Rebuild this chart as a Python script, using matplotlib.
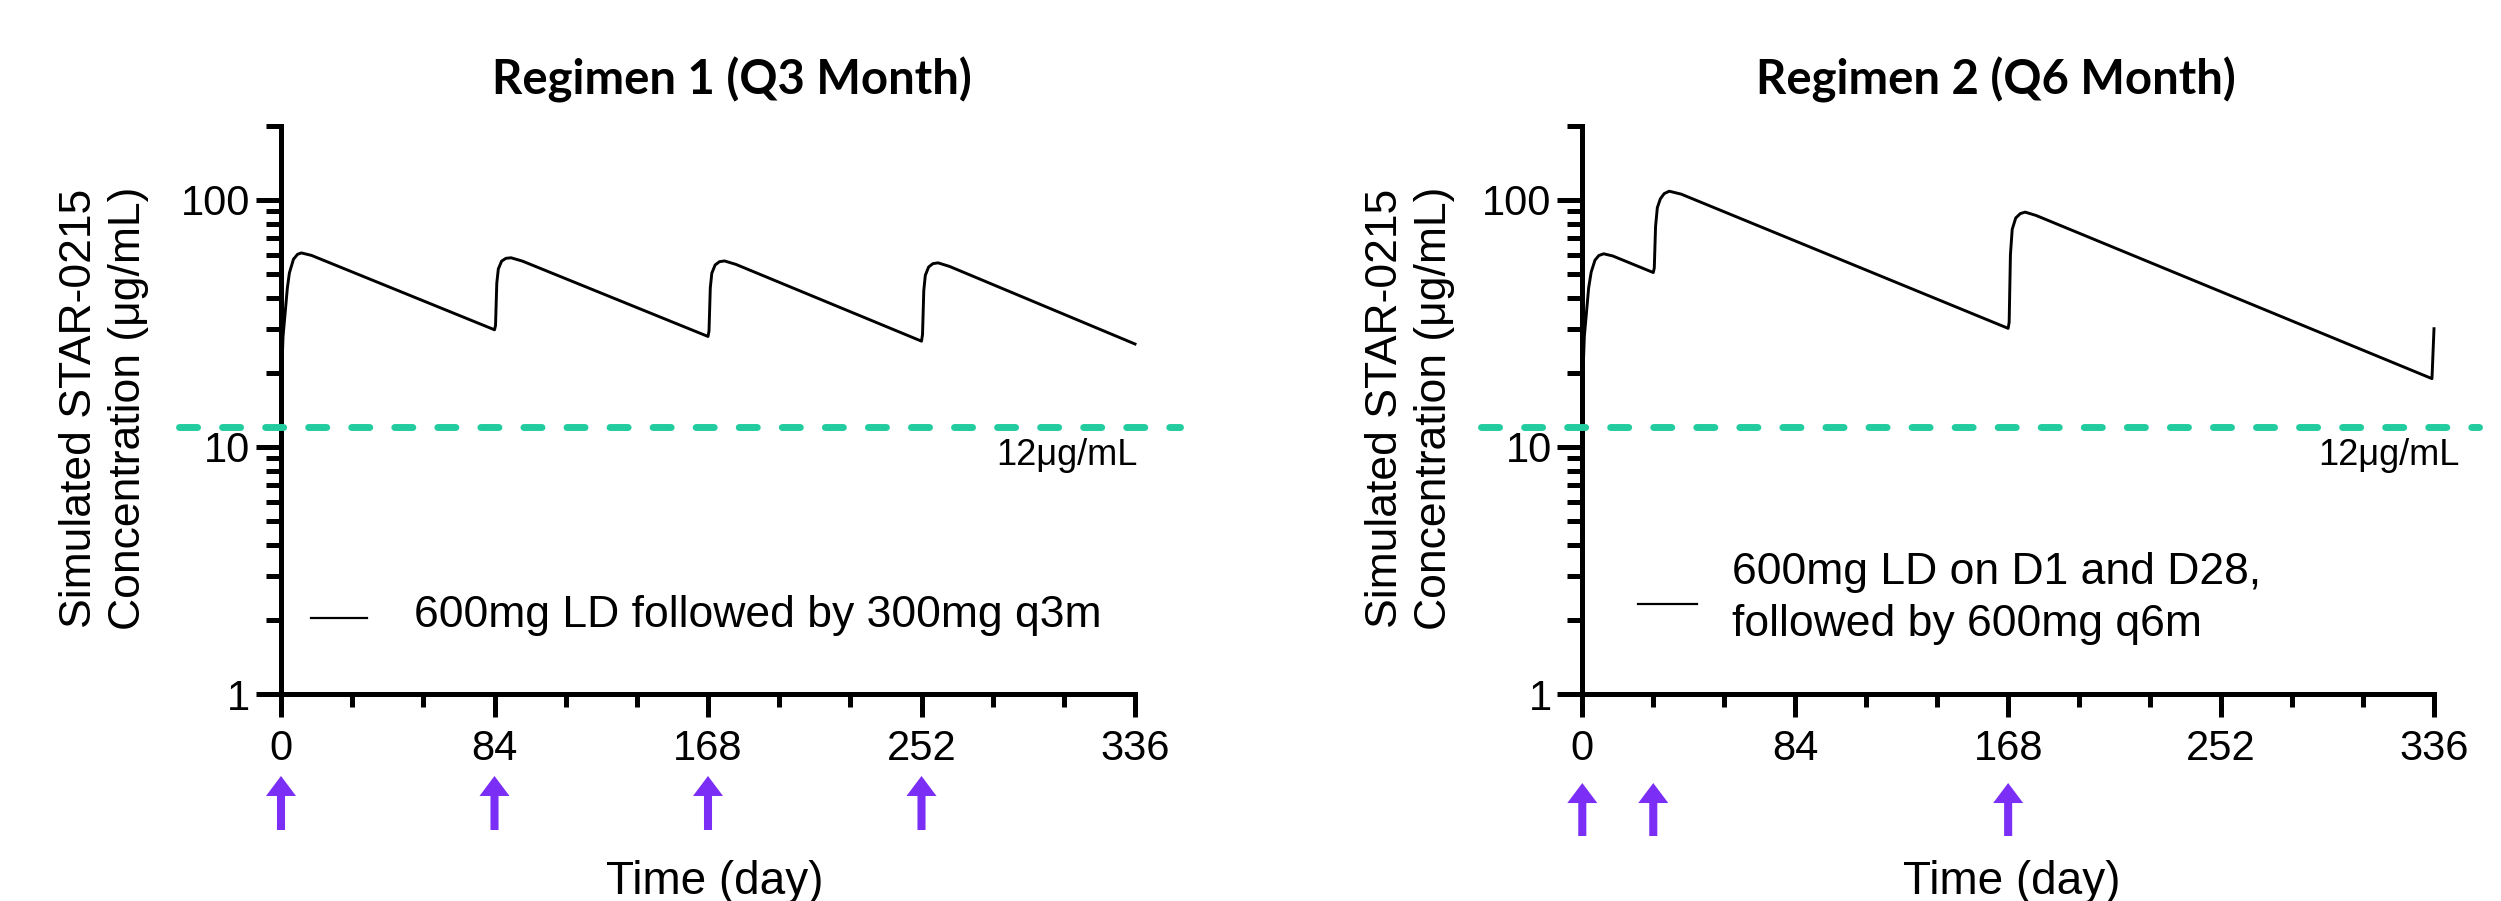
import matplotlib
matplotlib.use("Agg")
import matplotlib.pyplot as plt
from matplotlib.ticker import FixedLocator, FixedFormatter, MultipleLocator, LogLocator, NullFormatter

plt.rcParams["font.family"] = ["Liberation Sans", "DejaVu Sans"]

# Regimen 1 (Q3 month): simulated concentration
r1_day = [0, 0.3, 0.8, 1.6, 2.5, 3.3, 4.9, 6.5, 8.0, 12,
          84, 84.4, 84.9, 85.5, 86.8, 88.5, 90.5, 95,
          168, 168.4, 168.9, 169.5, 170.8, 172.5, 174.5, 179,
          252, 252.4, 252.9, 253.5, 254.8, 256.5, 258.5, 263,
          336]
r1_conc = [7.2, 20, 28, 34.6, 44, 50.6, 57.5, 60.2, 61, 59.6,
           29.8, 31, 46, 52.5, 56.5, 58, 58.3, 56.5,
           28.0, 29.5, 44, 50.5, 54.5, 56.2, 56.6, 54.8,
           26.8, 28.5, 43, 49.5, 53.5, 55.2, 55.6, 53.8,
           26.1]
r1_doses = [0, 84, 168, 252]

# Regimen 2 (Q6 month)
r2_day = [0, 0.3, 0.8, 1.6, 2.5, 3.5, 5.0, 6.5, 8.4, 12,
          28, 28.4, 28.9, 29.6, 30.8, 32.3, 34.3, 39,
          168, 168.4, 168.9, 169.6, 171, 172.8, 174.7, 179,
          335.2, 336]
r2_conc = [7.0, 20, 28, 34.6, 44, 51, 57, 59.5, 60.5, 59.3,
           50.8, 53, 78, 93, 101, 106, 108.4, 105.5,
           30.2, 32, 60, 76, 84.5, 88, 89.2, 86.5,
           18.9, 30.1]
r2_doses = [0, 28, 168]

threshold = 12
x_ticks = [0, 84, 168, 252, 336]
y_ticks = [1, 10, 100]
y_tick_labels = ["1", "10", "100"]

titles = ["Regimen 1 (Q3 Month)", "Regimen 2 (Q6 Month)"]
legend_labels = ["600mg LD followed by 300mg q3m",
                 "600mg LD on D1 and D28,\nfollowed by 600mg q6m"]
ylabel = "Simulated STAR-0215\nConcentration (μg/mL)"
xlabel = "Time (day)"
thr_label = "12μg/mL"

TEAL = "#22CC9F"
PURPLE = "#7B2EF6"
W, H = 2501, 901


def style_axes(ax):
    ax.set_yscale("log")
    ax.set_xlim(0, 336)
    ax.set_ylim(1, 200)
    ax.xaxis.set_major_locator(FixedLocator(x_ticks))
    ax.xaxis.set_minor_locator(MultipleLocator(28))
    ax.yaxis.set_major_locator(FixedLocator(y_ticks))
    ax.yaxis.set_major_formatter(FixedFormatter(y_tick_labels))
    ax.yaxis.set_minor_locator(LogLocator(base=10, subs=range(2, 10), numticks=12))
    ax.yaxis.set_minor_formatter(NullFormatter())
    for s in ("top", "right"):
        ax.spines[s].set_visible(False)
    for s in ("left", "bottom"):
        ax.spines[s].set_linewidth(3.6)
    ax.tick_params(axis="x", which="major", length=16.5, width=3.6, pad=9, labelsize=30)
    ax.tick_params(axis="x", which="minor", length=9.5, width=3.6)
    ax.tick_params(axis="y", which="major", length=18, width=3.6, pad=4, labelsize=30)
    ax.tick_params(axis="y", which="minor", length=11, width=3.6)


fig = plt.figure(figsize=(W / 100, H / 100), dpi=100)
ax1 = fig.add_axes([281 / W, 1 - 694 / H, 854 / W, 568.5 / H])
ax2 = fig.add_axes([1582.3 / W, 1 - 694 / H, 851.7 / W, 568.5 / H])

panels = [
    (ax1, r1_day, r1_conc, r1_doses, 732, 104, 715, (-0.1442, -0.2392), 1.0035,
     (0.035, 0.1006, 0.133), (0.1556, 0.138)),
    (ax2, r2_day, r2_conc, r2_doses, 1996, 1410, 2012, (-0.1566, -0.2498), 1.0305,
     (0.0657, 0.135, 0.158), (0.1757, 0.168)),
]

for i, (ax, day, conc, doses, tx, ylx, xlx, arr_y, thr_x, leg_line, leg_txt) in enumerate(panels):
    style_axes(ax)
    ax.plot(day, conc, color="black", lw=2.1, clip_on=False, zorder=3)

    # threshold line reaches past both ends of the axis
    ax.axhline(threshold, xmin=-0.119, xmax=1.053, color=TEAL, lw=5,
               dashes=(2.6, 3.6), dash_capstyle="round", clip_on=False, zorder=5)
    ax.text(thr_x, 8.45, thr_label, transform=ax.get_yaxis_transform(),
            ha="right", va="baseline", fontsize=26)

    # legend drawn by hand to match placement
    ax.plot(leg_line[:2], [leg_line[2]] * 2, transform=ax.transAxes,
            color="black", lw=1.6, clip_on=False)
    ax.text(leg_txt[0], leg_txt[1], legend_labels[i], transform=ax.transAxes,
            ha="left", va="center", fontsize=32, linespacing=1.33)

    # dosing arrows under the x axis
    for d in doses:
        ax.annotate("", xy=(d, arr_y[0]), xytext=(d, arr_y[1]),
                    xycoords=ax.get_xaxis_transform(),
                    textcoords=ax.get_xaxis_transform(),
                    annotation_clip=False,
                    arrowprops=dict(arrowstyle="simple,head_length=0.72,head_width=1.08,tail_width=0.29",
                                    mutation_scale=20, color=PURPLE, lw=0,
                                    shrinkA=0, shrinkB=0))

    fig.text(tx / W, 1 - 80 / H, titles[i], ha="center", va="center",
             fontsize=34, fontweight="bold", family=["Lato", "DejaVu Sans"])
    fig.text(ylx / W, 1 - 408 / H, ylabel, rotation=90, ha="center", va="center",
             fontsize=32, linespacing=1.27)
    fig.text(xlx / W, 1 - 860 / H, xlabel, ha="center", va="top", fontsize=33)

fig.savefig("out.png", dpi=100)
